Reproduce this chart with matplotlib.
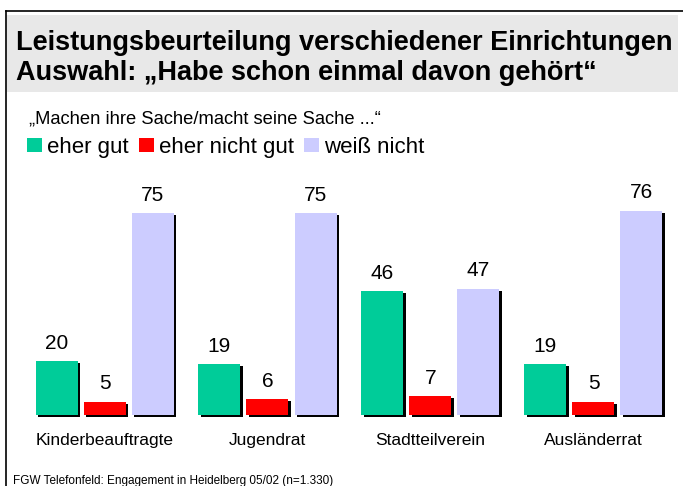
import matplotlib
matplotlib.use("Agg")
import matplotlib.pyplot as plt
import matplotlib.patheffects as pe
from matplotlib.patches import Patch, Rectangle
from matplotlib.lines import Line2D
import numpy as np

plt.rcParams['font.family'] = ['Liberation Sans', 'DejaVu Sans']

categories = ["Kinderbeauftragte", "Jugendrat", "Stadtteilverein", "Ausländerrat"]
series_names = ["eher gut", "eher nicht gut", "weiß nicht"]
eher_gut = [20, 19, 46, 19]
eher_nicht_gut = [5, 6, 7, 5]
weiss_nicht = [75, 75, 47, 76]
series_values = [eher_gut, eher_nicht_gut, weiss_nicht]
colors = ["#00CC99", "#FF0000", "#CCCCFF"]

title_lines = ["Leistungsbeurteilung verschiedener Einrichtungen",
               "Auswahl: \u201eHabe schon einmal davon gehört\u201c"]
subtitle = "\u201eMachen ihre Sache/macht seine Sache ...\u201c"
footnote = "FGW Telefonfeld: Engagement in Heidelberg 05/02 (n=1.330)"

W, H = 683, 486
fig = plt.figure(figsize=(W / 100, H / 100), dpi=100)
fig.patch.set_facecolor("white")

def fx(px):
    return px / W

def fy(py):
    return 1 - py / H

# frame lines
fig.add_artist(Line2D([fx(6), fx(6)], [fy(11), fy(486)], color="black", lw=1.2))
fig.add_artist(Line2D([fx(6), fx(683)], [fy(11), fy(11)], color="black", lw=1.2))
# title band
fig.add_artist(Rectangle((fx(7), fy(92)), fx(678) - fx(7), fy(15) - fy(92),
                         facecolor="#E8E8E8", edgecolor="none"))

fig.text(fx(16), fy(50), title_lines[0], fontsize=19.5, fontweight="bold",
         ha="left", va="baseline")
fig.text(fx(16), fy(80), title_lines[1], fontsize=19.5, fontweight="bold",
         ha="left", va="baseline")
fig.text(fx(29), fy(123), subtitle, fontsize=13.2, ha="left", va="baseline")
fig.text(fx(13), fy(484), footnote, fontsize=8.5, ha="left", va="baseline")

# axes: baseline at y=415px, 2.69 px per unit; group pitch 163px, center of first at 104.5px
px_per_unit = 2.69
base_px = 415
ax = fig.add_axes([0, (H - base_px) / H, 1, base_px / H])
ax.set_xlim(-104.5 / 163, (W - 104.5) / 163)
ax.set_ylim(0, base_px / px_per_unit)
ax.axis("off")

x = np.arange(len(categories))
pitch = 48 / 163
width = 42 / 163
for i, (vals, col, name) in enumerate(zip(series_values, colors, series_names)):
    pos = x + (i - 1) * pitch
    bars = ax.bar(pos, vals, width=width, color=col, edgecolor="none", label=name,
                  clip_on=False)
    for b in bars:
        b.set_path_effects([pe.SimplePatchShadow(offset=(1.6, -1.6),
                                                 shadow_rgbFace="black", alpha=1.0),
                            pe.Normal()])
    for p, v in zip(pos, vals):
        ax.annotate(str(v), (p, v), xytext=(0, 6.0), textcoords="offset points",
                    ha="center", va="bottom", fontsize=15)

for xi, c in zip(x, categories):
    ax.annotate(c, (xi, 0), xytext=(0, -18.5), textcoords="offset points",
                ha="center", va="center", fontsize=12.5, annotation_clip=False)

handles = [Patch(facecolor=c, edgecolor="none") for c in colors]
fig.legend(handles, series_names, loc="lower left",
           bbox_to_anchor=(fx(27), fy(158)), ncol=3, frameon=False, fontsize=16.0,
           handlelength=0.68, handleheight=0.63, handletextpad=0.22,
           columnspacing=0.45, borderaxespad=0, borderpad=0)

fig.savefig("out.png", dpi=100)
